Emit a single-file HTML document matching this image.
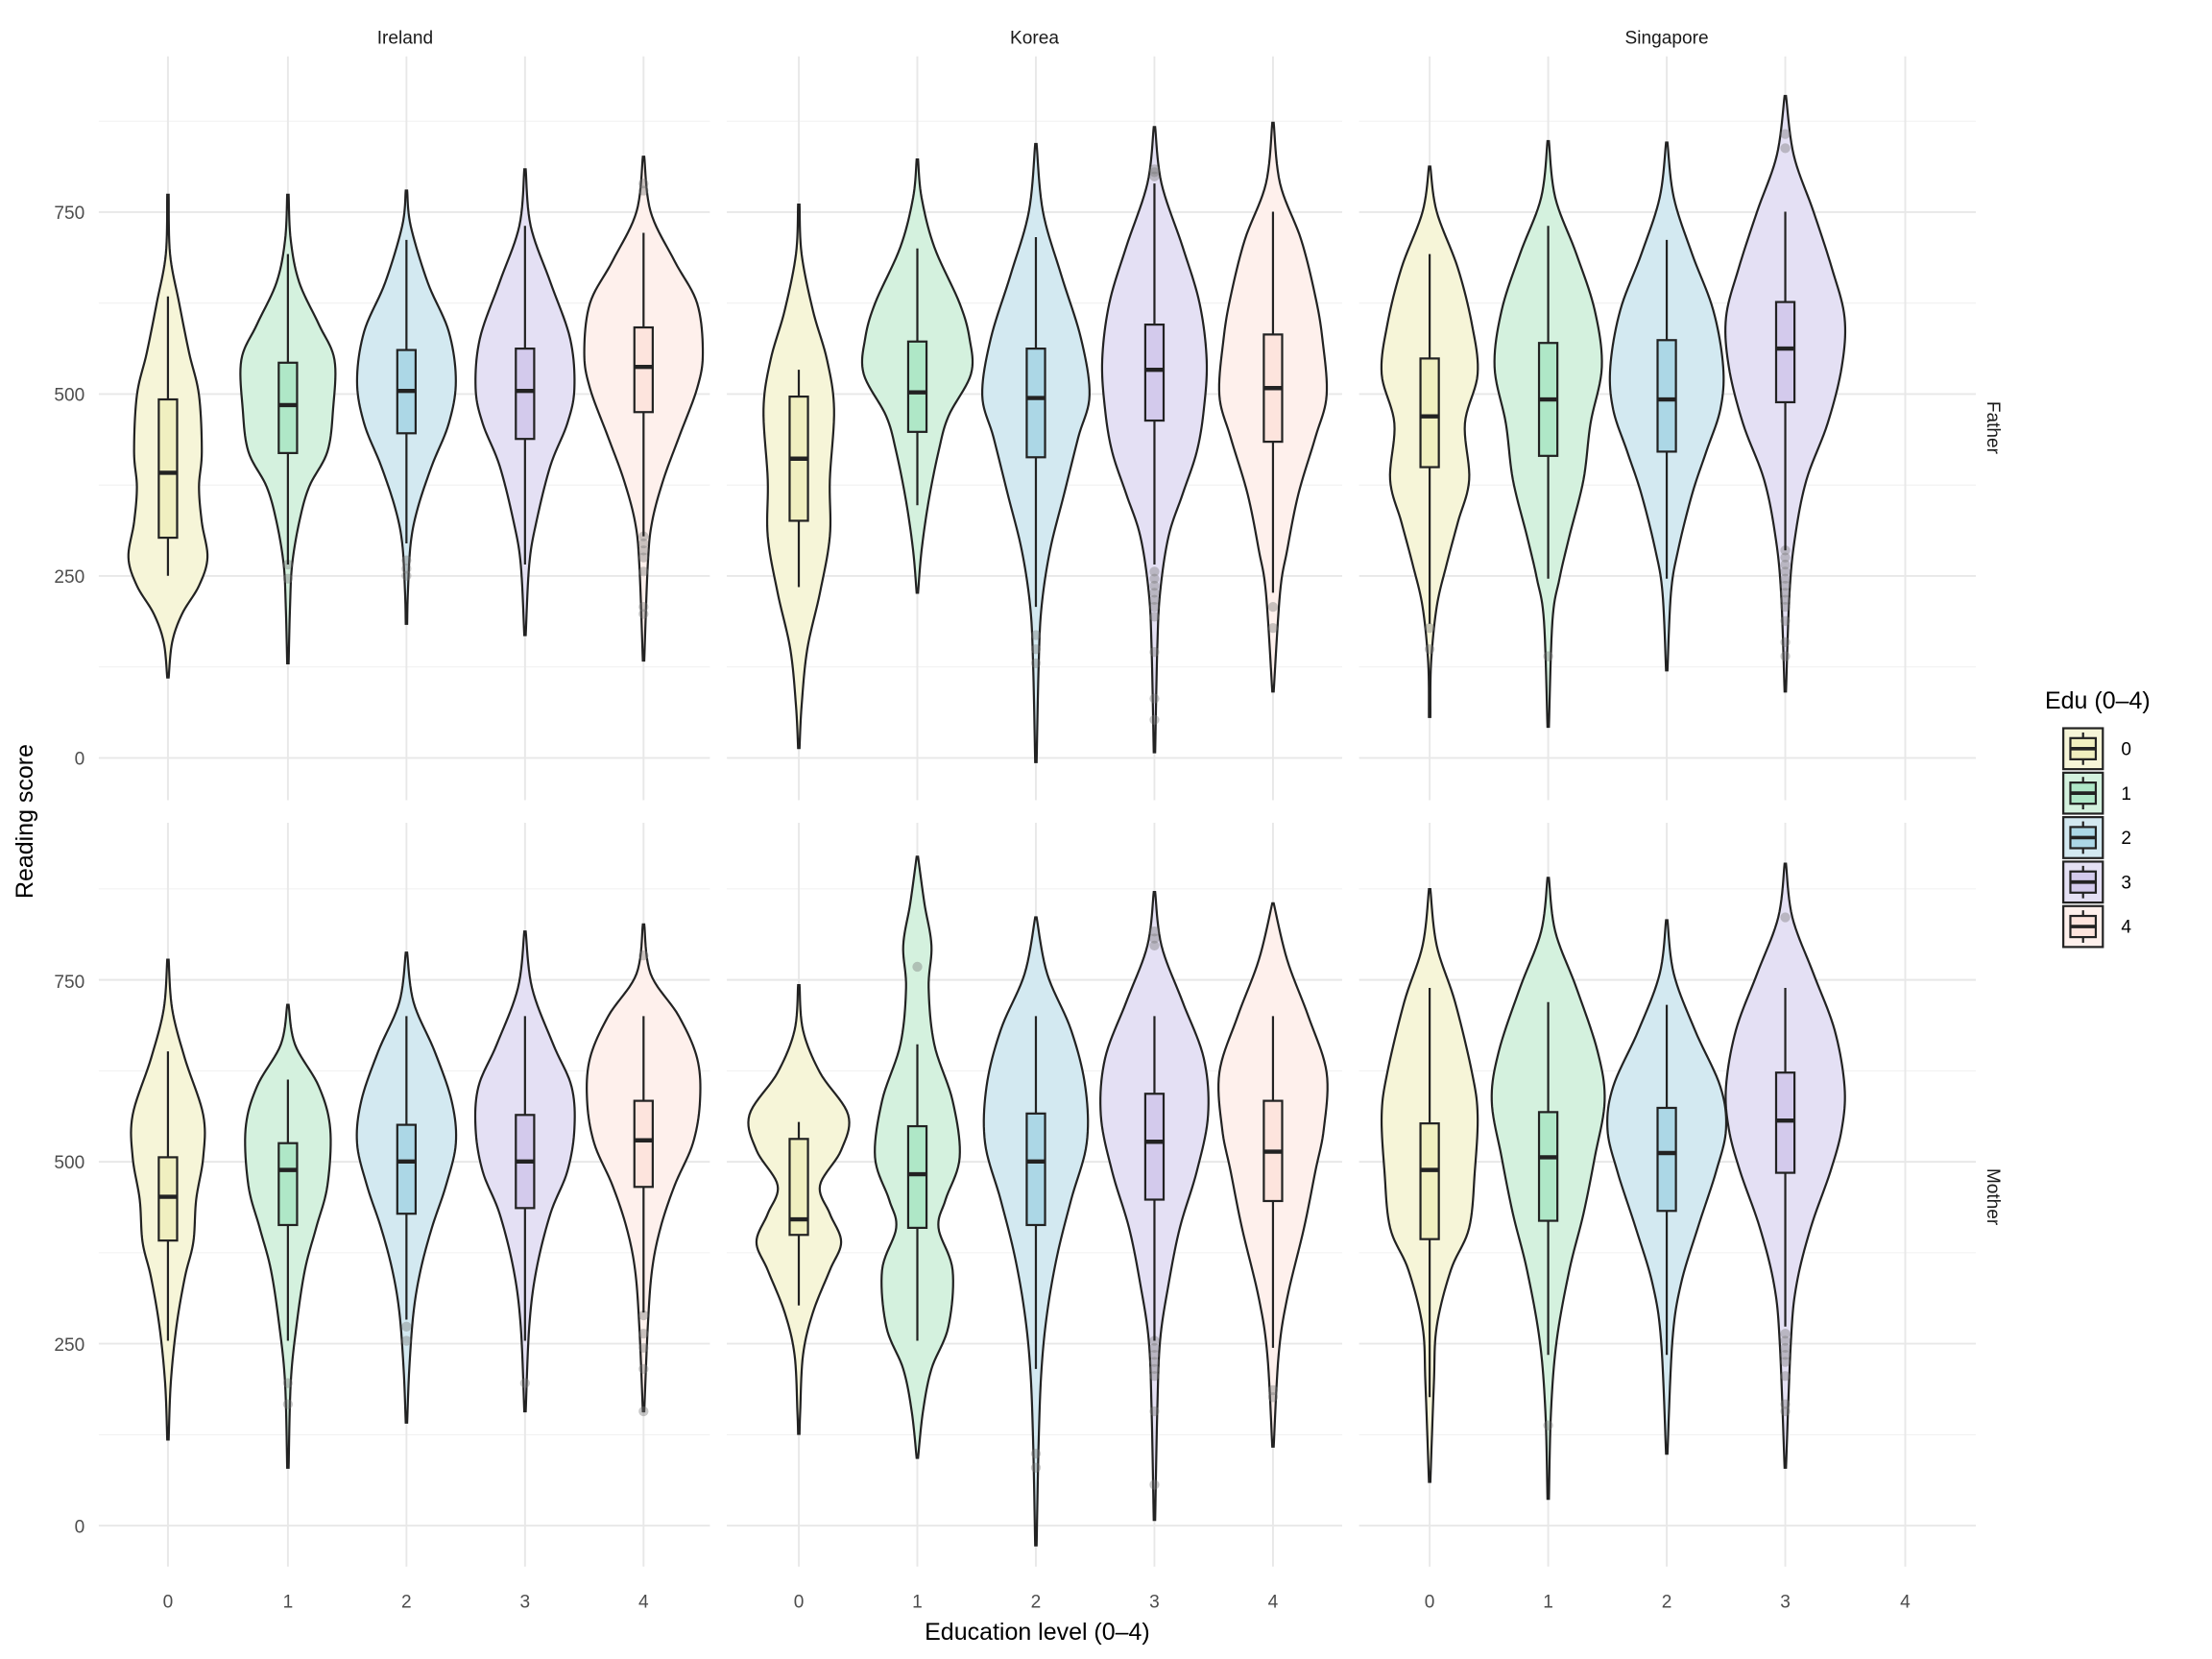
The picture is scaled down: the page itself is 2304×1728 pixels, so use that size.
<!DOCTYPE html>
<html><head><meta charset="utf-8"><style>
html,body{margin:0;padding:0;background:#fff}
svg{display:block}
text{font-family:"Liberation Sans",Arial,sans-serif}
</style></head><body>
<svg id="s" width="2304" height="1728" viewBox="0 0 1567.35 1175.5" xmlns="http://www.w3.org/2000/svg">
<rect width="1568" height="1176" fill="#fff"/>
<g id="grid"></g>
<g id="vio"></g>
<g fill="#1a1a1a" font-size="13">
<text x="287" y="31" text-anchor="middle">Ireland</text>
<text x="733" y="31" text-anchor="middle">Korea</text>
<text x="1181" y="31" text-anchor="middle">Singapore</text>
<text transform="translate(1408,303) rotate(90)" text-anchor="middle">Father</text>
<text transform="translate(1408,848) rotate(90)" text-anchor="middle">Mother</text>
</g>
<g fill="#4d4d4d" font-size="13" text-anchor="end">
<text x="60" y="155">750</text><text x="60" y="284">500</text><text x="60" y="413">250</text><text x="60" y="542">0</text>
<text x="60" y="700">750</text><text x="60" y="828">500</text><text x="60" y="957">250</text><text x="60" y="1086">0</text>
</g>
<g id="xt" fill="#4d4d4d" font-size="13" text-anchor="middle"></g>
<text x="735" y="1162" font-size="17" text-anchor="middle" fill="#000">Education level (0–4)</text>
<text transform="translate(23,582) rotate(-90)" font-size="17" text-anchor="middle" fill="#000">Reading score</text>
<text x="1449" y="502" font-size="17" fill="#000">Edu (0–4)</text>
<g id="leg"></g>
</svg>
<script>
var NS="http://www.w3.org/2000/svg";
function el(p,t,a){var e=document.createElementNS(NS,t);for(var k in a)e.setAttribute(k,a[k]);p.appendChild(e);return e;}
var grid=document.getElementById('grid');
var panelsX=[[70,503],[515,951],[963,1400]];
var centers=[[119,204,288,372,456],[566,650,734,818,902],[1013,1097,1181,1265,1350]];
var rows=[{z:537,top:40,bot:567},{z:1081,top:583,bot:1110}];
rows.forEach(function(r){
 panelsX.forEach(function(px,i){
  for(var v=125;v<=875;v+=250){var y=r.z-v*0.5156;el(grid,'line',{x1:px[0],x2:px[1],y1:y,y2:y,stroke:'#f0f0f0','stroke-width':0.7});}
  for(var v=0;v<=750;v+=250){var y=r.z-v*0.5156;el(grid,'line',{x1:px[0],x2:px[1],y1:y,y2:y,stroke:'#e8e8e8','stroke-width':1.3});}
  centers[i].forEach(function(c){el(grid,'line',{x1:c,x2:c,y1:r.top,y2:r.bot,stroke:'#e8e8e8','stroke-width':1.3});});
 });
});
var xt=document.getElementById('xt');
centers.forEach(function(cs){cs.forEach(function(c,j){var t=el(xt,'text',{x:c,y:1139});t.textContent=j;});});
var vf=['#f6f5d8','#d4f1de','#d3e9f1','#e4e0f4','#fef0ec'];
var bf=['#f0efc0','#afe7c7','#acd7e6','#d3caec','#fde4dd'];
var V=document.getElementById('vio');
function violin(cx,k,col){
 var n=k.length,pts=[];
 for(var i=0;i<n-1;i++){var p0=k[Math.max(i-1,0)],p1=k[i],p2=k[i+1],p3=k[Math.min(i+2,n-1)];
  for(var t=0;t<1;t+=0.1){var t2=t*t,t3=t2*t;
   var y=0.5*((2*p1[0])+(-p0[0]+p2[0])*t+(2*p0[0]-5*p1[0]+4*p2[0]-p3[0])*t2+(-p0[0]+3*p1[0]-3*p2[0]+p3[0])*t3);
   var w=0.5*((2*p1[1])+(-p0[1]+p2[1])*t+(2*p0[1]-5*p1[1]+4*p2[1]-p3[1])*t2+(-p0[1]+3*p1[1]-3*p2[1]+p3[1])*t3);
   pts.push([y,Math.max(w,0.4)]);}}
 pts.push(k[n-1]);
 var d='M'+cx+','+pts[0][0];
 pts.forEach(function(p){d+='L'+(cx+p[1]).toFixed(2)+','+p[0].toFixed(2);});
 for(var i=pts.length-1;i>=0;i--){d+='L'+(cx-pts[i][1]).toFixed(2)+','+pts[i][0].toFixed(2);}
 d+='Z';
 el(V,'path',{d:d,fill:vf[col],stroke:'#222','stroke-width':1.5});
}
function box(cx,b,w,o,col){
 o.forEach(function(y){el(V,'circle',{cx:cx,cy:y,r:3.5,fill:'#777','fill-opacity':0.4});});
 el(V,'line',{x1:cx,x2:cx,y1:w[0],y2:w[1],stroke:'#222','stroke-width':1.5});
 el(V,'rect',{x:cx-6.5,y:b[0],width:13,height:b[2]-b[0],fill:bf[col],stroke:'#222','stroke-width':1.5});
 el(V,'line',{x1:cx-6.5,x2:cx+6.5,y1:b[1],y2:b[1],stroke:'#222','stroke-width':3});
}
var D=[
[119,0,[[138,.5],[180,1.5],[215,8],[250,15],[280,22],[320,24],[345,22],[370,24],[395,28],[415,22],[435,10],[455,3],[480,.5]],[283,335,381],[210,408],[]],
[204,1,[[138,.5],[170,2],[200,8],[230,22],[255,33],[290,32],[320,28],[345,15],[370,8],[400,3],[430,1.5],[470,.5]],[257,287,321],[180,400],[400,410]],
[288,2,[[135,.5],[160,3],[200,15],[235,30],[270,35],[300,30],[330,18],[360,8],[385,3],[420,1],[442,.5]],[248,277,307],[170,385],[397,403,408]],
[372,3,[[120,.5],[160,4],[200,18],[240,32],[275,35],[300,30],[330,18],[370,8],[400,3],[450,.5]],[247,277,311],[160,400],[]],
[456,4,[[111,.5],[150,5],[185,22],[215,38],[250,42],[275,38],[310,25],[340,14],[370,6],[400,3],[468,.5]],[232,260,292],[165,380],[130,135,380,385,390,395,405,430,435]],
[566,0,[[145,.5],[180,2],[220,10],[255,20],[290,25],[340,22],[380,22],[420,15],[460,6],[500,2],[530,.5]],[281,325,369],[262,416],[]],
[650,1,[[113,.5],[140,3],[175,12],[215,30],[240,37],[265,38],[295,22],[320,15],[355,8],[390,3],[420,.5]],[242,278,306],[176,358],[]],
[734,2,[[102,.5],[150,5],[195,18],[240,32],[280,38],[310,30],[350,20],[390,10],[430,4],[470,2],[540,.5]],[247,282,324],[168,430],[450,460,470]],
[818,3,[[90,.5],[130,5],[175,20],[215,32],[255,37],[290,35],[320,30],[350,20],[380,10],[420,4],[460,2],[533,.5]],[230,262,298],[130,400],[120,122,125,405,410,415,420,425,430,437,462,495,510]],
[902,4,[[87,.5],[130,5],[170,20],[210,30],[240,35],[280,38],[310,30],[350,18],[390,10],[420,5],[490,.5]],[237,275,313],[150,420],[430,445]],
[1013,0,[[118,.5],[150,5],[190,20],[230,30],[265,34],[300,25],[340,28],[370,20],[400,12],[430,5],[470,1],[508,.5]],[254,295,331],[180,442],[445,460]],
[1097,1,[[100,.5],[140,5],[180,20],[220,33],[260,38],[300,30],[340,25],[380,15],[410,8],[440,3],[515,.5]],[243,283,323],[160,410],[465]],
[1181,2,[[101,.5],[140,5],[180,18],[220,33],[260,40],[290,38],[320,28],[350,18],[390,8],[420,3],[475,.5]],[241,283,320],[170,410],[]],
[1265,3,[[68,.5],[110,6],[150,20],[190,33],[225,42],[260,40],[300,30],[340,15],[380,7],[420,3],[490,.5]],[214,247,285],[150,390],[95,105,390,395,400,405,410,415,420,425,430,440,455,465]],
[119,0,[[680,.5],[715,3],[750,12],[790,25],[820,25],[850,20],[880,18],[905,12],[940,6],[980,2],[1020,.5]],[820,848,879],[745,950],[]],
[204,1,[[712,.5],[740,5],[770,22],[800,30],[840,28],[870,20],[900,12],[940,6],[980,2],[1040,.5]],[810,829,868],[765,950],[980,995]],
[288,2,[[675,.5],[710,5],[745,20],[780,32],[810,35],[840,28],[870,18],[900,10],[930,5],[970,2],[1008,.5]],[797,823,860],[720,935],[940,950]],
[372,3,[[660,.5],[700,5],[740,20],[770,33],[800,35],[830,30],[860,18],[900,8],[940,3],[1000,.5]],[790,823,856],[720,950],[980]],
[456,4,[[655,.5],[690,5],[720,25],[750,38],[780,40],[810,35],[840,22],[870,12],[900,6],[940,3],[1000,.5]],[780,808,841],[720,930],[677,932,945,955,970,1000]],
[566,0,[[698,.5],[730,3],[760,15],[790,35],[815,30],[840,15],[860,22],[880,30],[900,22],[930,10],[960,3],[1000,1],[1016,.5]],[807,864,875],[795,925],[]],
[650,1,[[607,.5],[640,5],[670,10],[700,8],[740,12],[780,25],[820,30],[850,20],[870,15],[900,25],[940,22],[970,10],[1000,4],[1033,.5]],[798,832,870],[740,950],[685]],
[734,2,[[650,.5],[690,8],[730,25],[770,35],[810,36],[850,25],[890,15],[930,8],[970,4],[1020,2],[1095,.5]],[789,823,868],[720,970],[1030,1040]],
[818,3,[[632,.5],[670,5],[710,20],[750,35],[790,38],[830,30],[870,18],[910,10],[950,4],[1000,2],[1077,.5]],[775,809,850],[720,950],[660,665,670,950,955,960,965,970,975,1000,1052]],
[902,4,[[640,.5],[680,10],[720,25],[760,38],[800,36],[830,30],[870,22],[920,10],[960,4],[1025,.5]],[780,816,851],[720,955],[985,990]],
[1013,0,[[630,.5],[670,5],[710,18],[760,30],[790,34],[830,32],[870,28],[900,15],[940,5],[980,3],[1050,.5]],[796,829,878],[700,990],[]],
[1097,1,[[622,.5],[660,5],[700,20],[745,35],[780,40],[820,33],[860,25],[900,15],[950,6],[1000,2],[1062,.5]],[788,820,865],[710,960],[1010]],
[1181,2,[[652,.5],[690,5],[730,20],[770,38],[800,42],[830,35],[870,22],[910,10],[950,4],[1030,.5]],[785,817,858],[712,960],[]],
[1265,3,[[612,.5],[650,5],[690,20],[730,35],[770,42],[800,40],[830,32],[870,18],[910,8],[950,4],[1040,.5]],[760,794,831],[700,940],[650,945,950,955,960,965,975,995,1000]]
];
D.forEach(function(d){violin(d[0],d[2],d[1]);});
D.forEach(function(d){box(d[0],d[3],d[4],d[5],d[1]);});
var L=document.getElementById('leg');
for(var i=0;i<5;i++){var y=516+i*31.5;
 el(L,'rect',{x:1462,y:y,width:28,height:29,fill:vf[i],stroke:'#222','stroke-width':1.5});
 el(L,'line',{x1:1476,x2:1476,y1:y+3,y2:y+26,stroke:'#222','stroke-width':1.5});
 el(L,'rect',{x:1467,y:y+7,width:18,height:15,fill:bf[i],stroke:'#222','stroke-width':1.5});
 el(L,'line',{x1:1467,x2:1485,y1:y+14.5,y2:y+14.5,stroke:'#222','stroke-width':2.5});
 var t=el(L,'text',{x:1503,y:y+19,'font-size':13,fill:'#000'});t.textContent=i;}
</script>
</body></html>
